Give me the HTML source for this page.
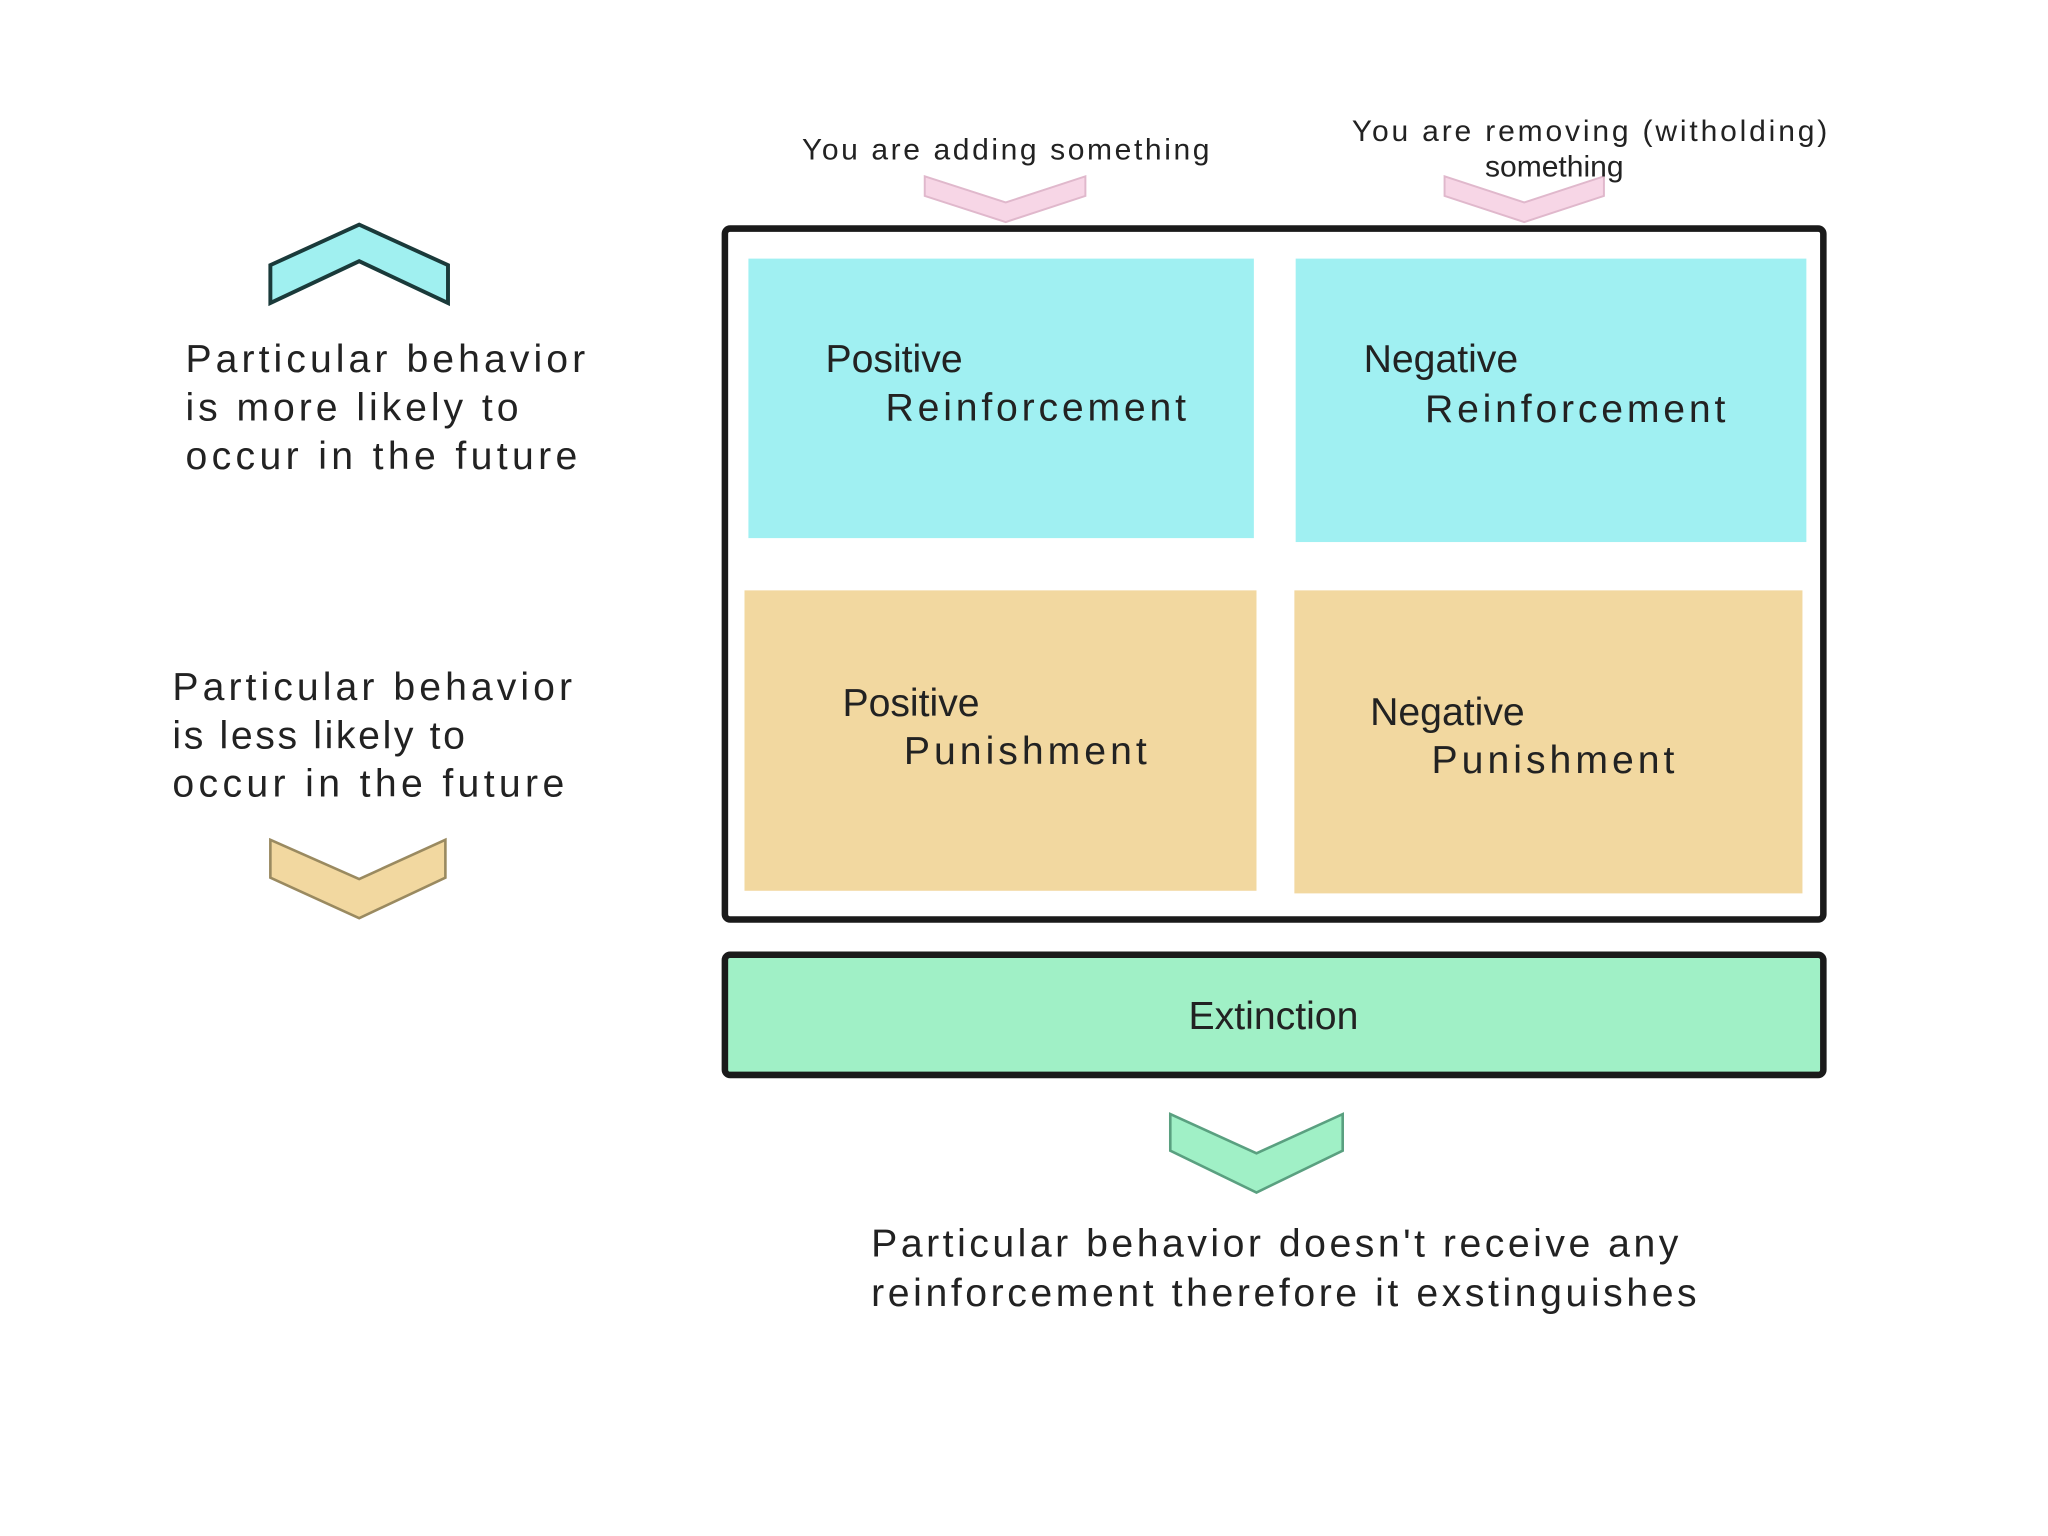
<!DOCTYPE html>
<html><head><meta charset="utf-8"><style>html,body{margin:0;padding:0;background:#fff}svg{display:block}</style></head>
<body>
<svg width="2048" height="1536" viewBox="0 0 1568 1176" xmlns="http://www.w3.org/2000/svg" font-family="Liberation Sans, sans-serif" fill="#222">
<rect width="1568" height="1176" fill="#fff"/>
<!-- pink chevrons -->
<polygon points="708,135 770,155 831,135 831,150 770,170 708,150" fill="#f7d6e6" stroke="#e0b8cc" stroke-width="1.5"/>
<polygon points="1106,135 1167,155 1228,135 1228,150 1167,170 1106,150" fill="#f7d6e6" stroke="#e0b8cc" stroke-width="1.5"/>
<!-- main box -->
<rect x="555" y="175" width="841" height="529" rx="4" fill="#fff" stroke="#1a1a1a" stroke-width="5"/>
<rect x="573" y="198" width="387" height="214" fill="#a0f0f2"/>
<rect x="992" y="198" width="391" height="217" fill="#a0f0f2"/>
<rect x="570" y="452" width="392" height="230" fill="#f2d8a0"/>
<rect x="991" y="452" width="389" height="232" fill="#f2d8a0"/>
<rect x="555" y="731" width="841" height="92" rx="4" fill="#a0f0c6" stroke="#1a1a1a" stroke-width="5"/>
<!-- left chevrons -->
<polygon points="207,203 275,172 343,203 343,232 275,200 207,232" fill="#a0f0f0" stroke="#1a3a3a" stroke-width="3"/>
<polygon points="207,643 275,673 341,643 341,672 275,703 207,672" fill="#f2d8a0" stroke="#9a8a60" stroke-width="2"/>
<polygon points="896,853 962,883 1028,853 1028,881 962,913 896,881" fill="#a0f0c6" stroke="#5aa080" stroke-width="2"/>
<!-- text -->
<g font-size="30">
<text x="632" y="285">Positive</text>
<text x="678" y="322" textLength="230">Reinforcement</text>
<text x="1044" y="285">Negative</text>
<text x="1091" y="323" textLength="230">Reinforcement</text>
<text x="645" y="548">Positive</text>
<text x="692" y="585" textLength="186">Punishment</text>
<text x="1049" y="555">Negative</text>
<text x="1096" y="592" textLength="186">Punishment</text>
<text x="975" y="788" text-anchor="middle">Extinction</text>
<text x="142" y="285" textLength="306">Particular behavior</text>
<text x="142" y="322" textLength="255">is more likely to</text>
<text x="142" y="359" textLength="300">occur in the future</text>
<text x="132" y="536" textLength="306">Particular behavior</text>
<text x="132" y="573" textLength="224">is less likely to</text>
<text x="132" y="610" textLength="300">occur in the future</text>
<text x="667" y="962" textLength="618">Particular behavior doesn't receive any</text>
<text x="667" y="1000" textLength="632">reinforcement therefore it exstinguishes</text>
</g>
<g font-size="23">
<text x="614" y="122" textLength="312">You are adding something</text>
<text x="1035" y="108" textLength="364">You are removing (witholding)</text>
<text x="1190" y="135" text-anchor="middle">something</text>
</g>
</svg>
</body></html>
